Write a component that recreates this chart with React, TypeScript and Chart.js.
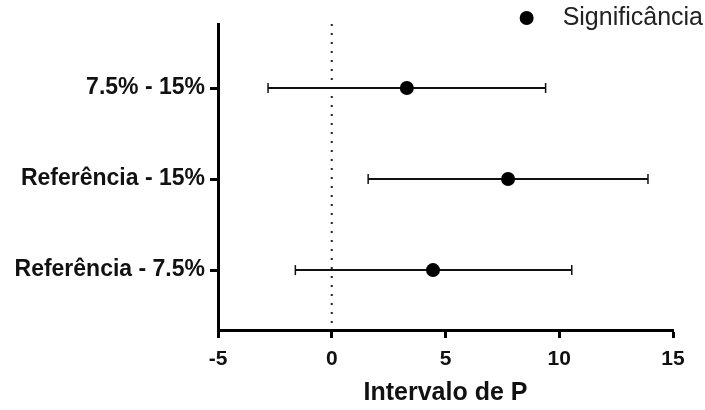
import React, { useEffect, useRef } from "react";
import { Chart, registerables } from "chart.js";

Chart.register(...registerables);

const categories = ["7.5% - 15%", "Referência - 15%", "Referência - 7.5%"];
const estimates = [3.3, 7.75, 4.45];
const lowerCI = [-2.8, 1.6, -1.6];
const upperCI = [9.4, 13.9, 10.55];
const xTicks = [-5, 0, 5, 10, 15];
const seriesLabel = "Significância";
const xTitle = "Intervalo de P";

const FONT = '"Liberation Sans", Arial, sans-serif';
const Y_MIN = -0.703;
const Y_MAX = 2.658;

const legendPlugin = {
  id: "customLegend",
  afterDraw(chart: any) {
    const ds = chart.data.datasets[0];
    const ctx = chart.ctx;
    ctx.save();
    ctx.font = `25px ${FONT}`;
    ctx.fillStyle = "#222";
    ctx.textAlign = "right";
    ctx.textBaseline = "middle";
    const x = chart.width - 2;
    const y = 18;
    ctx.fillText(ds.label, x, y);
    const w = ctx.measureText(ds.label).width;
    ctx.beginPath();
    ctx.arc(x - w - 36, y, 7, 0, Math.PI * 2);
    ctx.fillStyle = "#000";
    ctx.fill();
    ctx.restore();
  },
};

export default function App() {
  const ref = useRef<HTMLCanvasElement>(null);
  useEffect(() => {
    document.body.style.margin = "0";
    const errorSets = categories.map((_, i) => ({
      label: "ci" + i,
      data: [
        { x: lowerCI[i], y: i },
        { x: upperCI[i], y: i },
      ],
      showLine: true,
      borderColor: "#111",
      borderWidth: 2,
      pointStyle: "line",
      pointRotation: 90,
      pointRadius: 5,
      pointBorderWidth: 1.5,
      pointBorderColor: "#111",
      pointBackgroundColor: "#111",
      order: 2,
    }));
    const chart = new Chart(ref.current!, {
      type: "scatter",
      data: {
        datasets: [
          {
            label: seriesLabel,
            data: estimates.map((v, i) => ({ x: v, y: i })),
            pointRadius: 7,
            pointBackgroundColor: "#000",
            pointBorderColor: "#000",
            pointBorderWidth: 0,
            order: 0,
          } as any,
          ...(errorSets as any[]),
          {
            label: "zero",
            data: [
              { x: 0, y: Y_MIN },
              { x: 0, y: Y_MAX },
            ],
            showLine: true,
            borderColor: "#222",
            borderWidth: 2,
            borderDash: [2, 7],
            pointRadius: 0,
            order: 3,
          },
        ],
      },
      options: {
        responsive: false,
        animation: false,
        layout: { padding: { top: 24, left: 0, right: 32, bottom: 1 } },
        plugins: {
          legend: { display: false },
          tooltip: { enabled: false },
        },
        scales: {
          x: {
            type: "linear",
            min: -5,
            max: 15,
            afterBuildTicks: (s: any) => {
              s.ticks = xTicks.map((v) => ({ value: v }));
            },
            afterFit: (s: any) => {
              s.height = 79;
            },
            border: { display: true, color: "#000", width: 3 },
            grid: {
              drawOnChartArea: false,
              drawTicks: true,
              tickLength: 8,
              tickColor: "#000",
              tickWidth: 3,
            },
            ticks: {
              color: "#111",
              padding: 9,
              font: { family: FONT, size: 21, weight: "bold" },
            },
            title: {
              display: true,
              text: xTitle,
              color: "#111",
              padding: { top: 4, bottom: 1 },
              font: { family: FONT, size: 25, weight: "bold" },
            },
          },
          y: {
            type: "linear",
            reverse: true,
            min: Y_MIN,
            max: Y_MAX,
            afterBuildTicks: (s: any) => {
              s.ticks = categories.map((_, i) => ({ value: i }));
            },
            afterFit: (s: any) => {
              s.width = 218;
            },
            border: { display: true, color: "#000", width: 3 },
            grid: {
              drawOnChartArea: false,
              drawTicks: true,
              tickLength: 8,
              tickColor: "#000",
              tickWidth: 3,
            },
            ticks: {
              color: "#111",
              padding: 5,
              font: { family: FONT, size: 23, weight: "bold" },
              callback: (v: any) => categories[Math.round(Number(v))] ?? "",
            },
          },
        },
      },
      plugins: [legendPlugin],
    } as any);
    return () => chart.destroy();
  }, []);
  return (
    <div style={{ width: 705, height: 410, background: "#fff" }}>
      <canvas ref={ref} width={705} height={410} />
    </div>
  );
}
